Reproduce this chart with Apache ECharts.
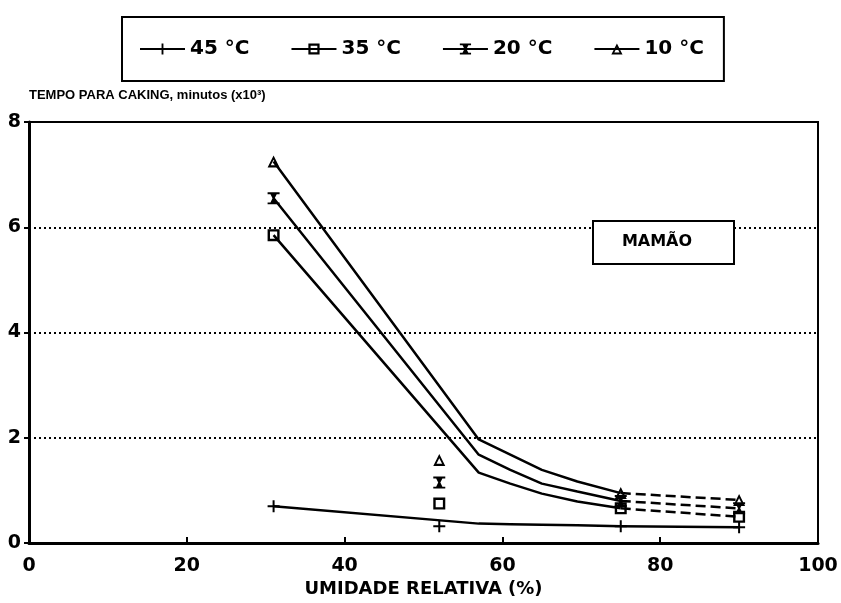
<!DOCTYPE html>
<html>
<head>
<meta charset="utf-8">
<script src="https://cdn.jsdelivr.net/npm/echarts@6/dist/echarts.min.js"></script>
<style>html,body{margin:0;padding:0;background:#fff;}#c{width:841px;height:603px;}</style>
</head>
<body>
<div id="c"></div>
<script>
// ---- data ----
const seriesNames = ['45 °C', '35 °C', '20 °C', '10 °C'];
const rhSolid = [31, 57, 61, 65, 69.5, 75];   // humidity (%) along the solid part of each curve
const rhDashed = [75, 90];                    // humidity (%) along the dashed end of each curve
const rhLoose = 52;                           // humidity (%) of the isolated markers
const y45 = [0.70, 0.37, 0.36, 0.35, 0.34, 0.32];
const y35 = [5.85, 1.34, 1.13, 0.94, 0.79, 0.66];
const y20 = [6.55, 1.68, 1.39, 1.13, 0.98, 0.80];
const y10 = [7.25, 1.97, 1.68, 1.39, 1.17, 0.95];
const y45Dashed = [0.32, 0.30];
const y35Dashed = [0.66, 0.50];
const y20Dashed = [0.80, 0.66];
const y10Dashed = [0.95, 0.82];
const looseValues = [0.32, 0.75, 1.15, 1.58]; // 45, 35, 20, 10 °C at rhLoose
const xTicks = [0, 20, 40, 60, 80, 100];
const yTicks = [0, 2, 4, 6, 8];

// ---- styling ----
const symbols = [
  'path://M-1,-6H1V-1H6V1H1V6H-1V1H-6V-1H-1Z',
  'path://M-5,-5H5V5H-5Z M-3,-3V3H3V-3Z',
  'path://M-5,-5H5V-3.4H2.6L0.9,0L2.6,3.4H5V5H-5V3.4H-2.6L-0.9,0L-2.6,-3.4H-5Z',
  'path://M0,-6L6,5H-6Z M0,-2L-2.8,3H2.8Z'
];
const ys = [y45, y35, y20, y10];
const ysDashed = [y45Dashed, y35Dashed, y20Dashed, y10Dashed];
const dashedTail = [false, true, true, true];
const black = '#000';

const series = [];
seriesNames.forEach((name, i) => {
  const shown = new Set([0, rhSolid.length - 1]);
  series.push({
    name: name, type: 'line',
    symbol: symbols[i], symbolSize: 12,
    itemStyle: { color: black, opacity: 1 },
    lineStyle: { color: black, width: 2.5 },
    data: rhSolid.map((x, k) => shown.has(k) ? [x, ys[i][k]] : { value: [x, ys[i][k]], symbol: 'none' }),
    z: 3
  });
  series.push({
    name: name + ' tail', type: 'line',
    symbol: symbols[i], symbolSize: 12,
    itemStyle: { color: black, opacity: 1 },
    lineStyle: { color: black, width: 2.5, type: dashedTail[i] ? [10, 5] : 'solid' },
    data: rhDashed.map((x, k) => k === 0 ? { value: [x, ysDashed[i][k]], symbol: 'none' } : [x, ysDashed[i][k]]),
    z: 3
  });
  series.push({
    name: name + ' loose', type: 'scatter',
    symbol: symbols[i], symbolSize: 12,
    itemStyle: { color: black, opacity: 1 },
    data: [[rhLoose, looseValues[i]]],
    z: 3
  });
});

const chart = echarts.init(document.getElementById('c'), null, { renderer: 'canvas' });
const font = '"Liberation Sans", Arial, sans-serif';
const wide = '"DejaVu Sans", sans-serif';
chart.setOption({
  animation: false,
  backgroundColor: '#fff',
  textStyle: { fontFamily: font, color: black },
  legend: {
    data: seriesNames,
    left: 122, top: 17,
    padding: [22, 20, 22, 17],
    itemGap: 41,
    itemWidth: 45, itemHeight: 14,
    borderColor: black, borderWidth: 2,
    textStyle: { fontSize: 20, fontWeight: 'bold', color: black, fontFamily: wide },
    selectedMode: false
  },
  grid: { left: 29, right: 23, top: 122, bottom: 56, show: true, borderColor: black, borderWidth: 2, containLabel: false },
  xAxis: {
    type: 'value', min: xTicks[0], max: xTicks[xTicks.length - 1], interval: 20,
    name: 'UMIDADE RELATIVA (%)', nameLocation: 'middle', nameGap: 35,
    nameTextStyle: { fontSize: 18, fontWeight: 'bold', color: black, fontFamily: wide },
    axisLine: { lineStyle: { color: black, width: 3 } },
    axisTick: { inside: true, length: 6, lineStyle: { color: black, width: 2 } },
    axisLabel: { fontSize: 19, fontWeight: 'bold', color: black, margin: 13, fontFamily: wide,
      formatter: v => xTicks.includes(v) ? String(v) : '' },
    splitLine: { show: false }
  },
  yAxis: {
    type: 'value', min: yTicks[0], max: yTicks[yTicks.length - 1], interval: 2,
    name: 'TEMPO PARA CAKING, minutos (x10³)', nameLocation: 'end', nameGap: 20,
    nameTextStyle: { fontSize: 13, fontWeight: 'bold', color: black, align: 'left', fontFamily: font },
    axisLine: { lineStyle: { color: black, width: 3 } },
    axisTick: { inside: false, length: 5, lineStyle: { color: black, width: 2 } },
    axisLabel: { fontSize: 19, fontWeight: 'bold', color: black, margin: 8, fontFamily: wide,
      formatter: v => yTicks.includes(v) ? String(v) : '' },
    splitLine: { show: true, lineStyle: { color: black, type: [2, 3], width: 2 } }
  },
  graphic: [
    { type: 'rect', left: 592, top: 220, shape: { width: 141, height: 43 },
      style: { fill: '#fff', stroke: black, lineWidth: 2 }, z: 10 },
    { type: 'text', x: 657, y: 242,
      style: { text: 'MAMÃO', font: 'bold 16px "DejaVu Sans", sans-serif', fill: black, align: 'center', verticalAlign: 'middle' }, z: 11 }
  ],
  series: series
});
</script>
</body>
</html>
